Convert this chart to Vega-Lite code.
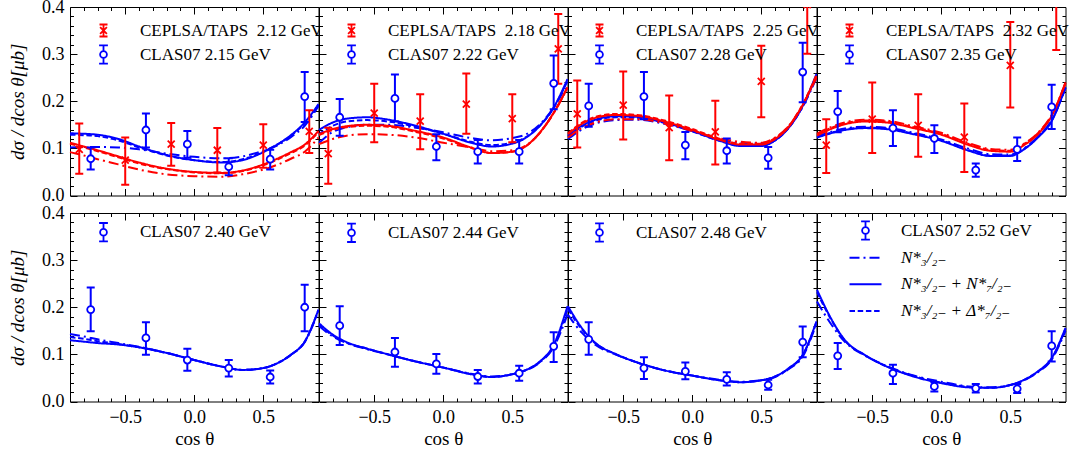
{
"$schema":"https://vega.github.io/schema/vega-lite/v6.json",
"padding":{"left":8,"top":-3,"right":0,"bottom":0},
"background":"white",
"config":{"view":{"stroke":"black","strokeWidth":1,"fill":"white"},
"font":"Liberation Serif, Times New Roman, DejaVu Serif, serif",
"axis":{"labelFont":"Liberation Serif, Times New Roman, DejaVu Serif, serif","labelFontSize":18,"labelColor":"black","titleFont":"Liberation Serif, Times New Roman, DejaVu Serif, serif","titleFontSize":19,"titleFontWeight":"normal","titleColor":"black","tickColor":"black","tickWidth":1,"domain":false,"grid":false,"labelFlush":false,"zindex":1},
"legend":{"labelFont":"Liberation Serif, Times New Roman, DejaVu Serif, serif","labelFontSize":17,"labelColor":"black","labelLimit":400}},
"datasets":{
"pts":[
{"p":1,"c":"r","x":-0.833,"y":0.098,"lo":0.046,"hi":0.153},{"p":1,"c":"r","x":-0.5,"y":0.075,"lo":0.023,"hi":0.123},{"p":1,"c":"r","x":-0.167,"y":0.109,"lo":0.063,"hi":0.154},{"p":1,"c":"r","x":0.167,"y":0.096,"lo":0.049,"hi":0.143},{"p":1,"c":"r","x":0.5,"y":0.107,"lo":0.059,"hi":0.151},{"p":1,"c":"r","x":0.833,"y":0.136,"lo":0.090,"hi":0.181},
{"p":1,"c":"b","x":-0.75,"y":0.078,"lo":0.055,"hi":0.102},{"p":1,"c":"b","x":-0.35,"y":0.139,"lo":0.102,"hi":0.174},{"p":1,"c":"b","x":-0.05,"y":0.109,"lo":0.080,"hi":0.137},{"p":1,"c":"b","x":0.25,"y":0.061,"lo":0.043,"hi":0.079},{"p":1,"c":"b","x":0.55,"y":0.077,"lo":0.055,"hi":0.097},{"p":1,"c":"b","x":0.8,"y":0.210,"lo":0.156,"hi":0.262},
{"p":2,"c":"r","x":-0.833,"y":0.089,"lo":0.025,"hi":0.144},{"p":2,"c":"r","x":-0.5,"y":0.175,"lo":0.113,"hi":0.237},{"p":2,"c":"r","x":-0.167,"y":0.158,"lo":0.098,"hi":0.215},{"p":2,"c":"r","x":0.167,"y":0.194,"lo":0.131,"hi":0.259},{"p":2,"c":"r","x":0.5,"y":0.163,"lo":0.113,"hi":0.215},{"p":2,"c":"r","x":0.833,"y":0.311,"lo":0.237,"hi":0.385},
{"p":2,"c":"b","x":-0.75,"y":0.166,"lo":0.127,"hi":0.205},{"p":2,"c":"b","x":-0.35,"y":0.206,"lo":0.157,"hi":0.257},{"p":2,"c":"b","x":-0.05,"y":0.104,"lo":0.075,"hi":0.130},{"p":2,"c":"b","x":0.25,"y":0.093,"lo":0.068,"hi":0.118},{"p":2,"c":"b","x":0.55,"y":0.093,"lo":0.068,"hi":0.118},{"p":2,"c":"b","x":0.8,"y":0.238,"lo":0.183,"hi":0.297},
{"p":3,"c":"r","x":-0.833,"y":0.173,"lo":0.102,"hi":0.244},{"p":3,"c":"r","x":-0.5,"y":0.192,"lo":0.119,"hi":0.263},{"p":3,"c":"r","x":-0.167,"y":0.144,"lo":0.075,"hi":0.212},{"p":3,"c":"r","x":0.167,"y":0.135,"lo":0.066,"hi":0.201},{"p":3,"c":"r","x":0.5,"y":0.242,"lo":0.166,"hi":0.318},{"p":3,"c":"r","x":0.833,"y":0.405,"lo":0.301,"hi":0.51},
{"p":3,"c":"b","x":-0.75,"y":0.190,"lo":0.146,"hi":0.237},{"p":3,"c":"b","x":-0.35,"y":0.210,"lo":0.162,"hi":0.262},{"p":3,"c":"b","x":-0.05,"y":0.107,"lo":0.077,"hi":0.135},{"p":3,"c":"b","x":0.25,"y":0.095,"lo":0.068,"hi":0.121},{"p":3,"c":"b","x":0.55,"y":0.080,"lo":0.057,"hi":0.103},{"p":3,"c":"b","x":0.8,"y":0.262,"lo":0.198,"hi":0.324},
{"p":4,"c":"r","x":-0.833,"y":0.107,"lo":0.048,"hi":0.162},{"p":4,"c":"r","x":-0.5,"y":0.162,"lo":0.090,"hi":0.240},{"p":4,"c":"r","x":-0.167,"y":0.149,"lo":0.082,"hi":0.215},{"p":4,"c":"r","x":0.167,"y":0.124,"lo":0.050,"hi":0.195},{"p":4,"c":"r","x":0.5,"y":0.276,"lo":0.187,"hi":0.368},{"p":4,"c":"r","x":0.833,"y":0.41,"lo":0.309,"hi":0.52},
{"p":4,"c":"b","x":-0.75,"y":0.178,"lo":0.134,"hi":0.222},{"p":4,"c":"b","x":-0.35,"y":0.143,"lo":0.105,"hi":0.181},{"p":4,"c":"b","x":-0.05,"y":0.121,"lo":0.090,"hi":0.149},{"p":4,"c":"b","x":0.25,"y":0.054,"lo":0.040,"hi":0.068},{"p":4,"c":"b","x":0.55,"y":0.098,"lo":0.073,"hi":0.123},{"p":4,"c":"b","x":0.8,"y":0.188,"lo":0.141,"hi":0.235},
{"p":5,"c":"b","x":-0.75,"y":0.195,"lo":0.149,"hi":0.242},{"p":5,"c":"b","x":-0.35,"y":0.135,"lo":0.099,"hi":0.168},{"p":5,"c":"b","x":-0.05,"y":0.088,"lo":0.065,"hi":0.112},{"p":5,"c":"b","x":0.25,"y":0.071,"lo":0.053,"hi":0.088},{"p":5,"c":"b","x":0.55,"y":0.052,"lo":0.038,"hi":0.066},{"p":5,"c":"b","x":0.8,"y":0.200,"lo":0.149,"hi":0.248},
{"p":6,"c":"b","x":-0.75,"y":0.161,"lo":0.120,"hi":0.202},{"p":6,"c":"b","x":-0.35,"y":0.105,"lo":0.074,"hi":0.135},{"p":6,"c":"b","x":-0.05,"y":0.080,"lo":0.059,"hi":0.101},{"p":6,"c":"b","x":0.25,"y":0.053,"lo":0.038,"hi":0.067},{"p":6,"c":"b","x":0.55,"y":0.060,"lo":0.044,"hi":0.076},{"p":6,"c":"b","x":0.8,"y":0.117,"lo":0.084,"hi":0.147},
{"p":7,"c":"b","x":-0.75,"y":0.132,"lo":0.099,"hi":0.168},{"p":7,"c":"b","x":-0.35,"y":0.071,"lo":0.048,"hi":0.094},{"p":7,"c":"b","x":-0.05,"y":0.064,"lo":0.047,"hi":0.083},{"p":7,"c":"b","x":0.25,"y":0.047,"lo":0.034,"hi":0.062},{"p":7,"c":"b","x":0.55,"y":0.035,"lo":0.025,"hi":0.046},{"p":7,"c":"b","x":0.8,"y":0.126,"lo":0.094,"hi":0.159},
{"p":8,"c":"b","x":-0.75,"y":0.097,"lo":0.069,"hi":0.124},{"p":8,"c":"b","x":-0.35,"y":0.060,"lo":0.037,"hi":0.078},{"p":8,"c":"b","x":-0.05,"y":0.032,"lo":0.021,"hi":0.041},{"p":8,"c":"b","x":0.25,"y":0.028,"lo":0.019,"hi":0.037},{"p":8,"c":"b","x":0.55,"y":0.027,"lo":0.018,"hi":0.037},{"p":8,"c":"b","x":0.8,"y":0.118,"lo":0.085,"hi":0.149}
],
"th":[
{"p":1,"c":"b","x":-0.9,"A":0.102,"B":0.132,"C":0.129},{"p":1,"c":"b","x":-0.8,"A":0.103,"B":0.131,"C":0.128},{"p":1,"c":"b","x":-0.7,"A":0.103,"B":0.129,"C":0.126},{"p":1,"c":"b","x":-0.55,"A":0.102,"B":0.120,"C":0.117},{"p":1,"c":"b","x":-0.4,"A":0.098,"B":0.104,"C":0.102},{"p":1,"c":"b","x":-0.2,"A":0.089,"B":0.086,"C":0.085},{"p":1,"c":"b","x":0,"A":0.082,"B":0.075,"C":0.075},{"p":1,"c":"b","x":0.2,"A":0.079,"B":0.070,"C":0.071},{"p":1,"c":"b","x":0.35,"A":0.083,"B":0.075,"C":0.077},{"p":1,"c":"b","x":0.5,"A":0.095,"B":0.092,"C":0.093},{"p":1,"c":"b","x":0.6,"A":0.106,"B":0.108,"C":0.108},{"p":1,"c":"b","x":0.7,"A":0.124,"B":0.128,"C":0.127},{"p":1,"c":"b","x":0.8,"A":0.148,"B":0.155,"C":0.153},{"p":1,"c":"b","x":0.9,"A":0.190,"B":0.194,"C":0.192},
{"p":1,"c":"r","x":-0.9,"A":0.092,"B":0.112,"C":0.110},{"p":1,"c":"r","x":-0.8,"A":0.085,"B":0.104,"C":0.102},{"p":1,"c":"r","x":-0.7,"A":0.077,"B":0.096,"C":0.094},{"p":1,"c":"r","x":-0.55,"A":0.066,"B":0.083,"C":0.081},{"p":1,"c":"r","x":-0.4,"A":0.055,"B":0.070,"C":0.068},{"p":1,"c":"r","x":-0.2,"A":0.045,"B":0.057,"C":0.056},{"p":1,"c":"r","x":0,"A":0.041,"B":0.050,"C":0.049},{"p":1,"c":"r","x":0.2,"A":0.040,"B":0.048,"C":0.047},{"p":1,"c":"r","x":0.35,"A":0.045,"B":0.053,"C":0.052},{"p":1,"c":"r","x":0.5,"A":0.055,"B":0.066,"C":0.064},{"p":1,"c":"r","x":0.6,"A":0.065,"B":0.078,"C":0.076},{"p":1,"c":"r","x":0.7,"A":0.078,"B":0.092,"C":0.090},{"p":1,"c":"r","x":0.8,"A":0.093,"B":0.108,"C":0.106},{"p":1,"c":"r","x":0.9,"A":0.123,"B":0.137,"C":0.135},
{"p":2,"c":"b","x":-0.9,"A":0.112,"B":0.139,"C":0.130},{"p":2,"c":"b","x":-0.8,"A":0.135,"B":0.155,"C":0.148},{"p":2,"c":"b","x":-0.7,"A":0.145,"B":0.163,"C":0.157},{"p":2,"c":"b","x":-0.55,"A":0.150,"B":0.166,"C":0.160},{"p":2,"c":"b","x":-0.4,"A":0.150,"B":0.161,"C":0.157},{"p":2,"c":"b","x":-0.2,"A":0.144,"B":0.148,"C":0.146},{"p":2,"c":"b","x":0,"A":0.134,"B":0.131,"C":0.131},{"p":2,"c":"b","x":0.2,"A":0.122,"B":0.112,"C":0.114},{"p":2,"c":"b","x":0.35,"A":0.117,"B":0.104,"C":0.107},{"p":2,"c":"b","x":0.5,"A":0.122,"B":0.110,"C":0.112},{"p":2,"c":"b","x":0.6,"A":0.130,"B":0.123,"C":0.124},{"p":2,"c":"b","x":0.7,"A":0.151,"B":0.148,"C":0.148},{"p":2,"c":"b","x":0.8,"A":0.187,"B":0.187,"C":0.186},{"p":2,"c":"b","x":0.9,"A":0.237,"B":0.247,"C":0.243},
{"p":2,"c":"r","x":-0.9,"A":0.109,"B":0.130,"C":0.128},{"p":2,"c":"r","x":-0.8,"A":0.120,"B":0.141,"C":0.139},{"p":2,"c":"r","x":-0.7,"A":0.127,"B":0.147,"C":0.145},{"p":2,"c":"r","x":-0.55,"A":0.130,"B":0.150,"C":0.148},{"p":2,"c":"r","x":-0.4,"A":0.129,"B":0.148,"C":0.146},{"p":2,"c":"r","x":-0.2,"A":0.123,"B":0.137,"C":0.135},{"p":2,"c":"r","x":0,"A":0.112,"B":0.123,"C":0.121},{"p":2,"c":"r","x":0.2,"A":0.102,"B":0.102,"C":0.101},{"p":2,"c":"r","x":0.35,"A":0.094,"B":0.090,"C":0.090},{"p":2,"c":"r","x":0.5,"A":0.096,"B":0.093,"C":0.093},{"p":2,"c":"r","x":0.6,"A":0.106,"B":0.105,"C":0.105},{"p":2,"c":"r","x":0.7,"A":0.133,"B":0.134,"C":0.133},{"p":2,"c":"r","x":0.8,"A":0.175,"B":0.176,"C":0.175},{"p":2,"c":"r","x":0.9,"A":0.228,"B":0.230,"C":0.229},
{"p":3,"c":"b","x":-0.9,"A":0.120,"B":0.127,"C":0.125},{"p":3,"c":"b","x":-0.8,"A":0.140,"B":0.148,"C":0.146},{"p":3,"c":"b","x":-0.7,"A":0.153,"B":0.161,"C":0.159},{"p":3,"c":"b","x":-0.55,"A":0.160,"B":0.168,"C":0.166},{"p":3,"c":"b","x":-0.4,"A":0.161,"B":0.167,"C":0.165},{"p":3,"c":"b","x":-0.2,"A":0.152,"B":0.155,"C":0.154},{"p":3,"c":"b","x":0,"A":0.137,"B":0.137,"C":0.136},{"p":3,"c":"b","x":0.2,"A":0.119,"B":0.116,"C":0.116},{"p":3,"c":"b","x":0.35,"A":0.112,"B":0.105,"C":0.106},{"p":3,"c":"b","x":0.5,"A":0.111,"B":0.105,"C":0.106},{"p":3,"c":"b","x":0.6,"A":0.121,"B":0.117,"C":0.117},{"p":3,"c":"b","x":0.7,"A":0.146,"B":0.144,"C":0.144},{"p":3,"c":"b","x":0.8,"A":0.188,"B":0.190,"C":0.189},{"p":3,"c":"b","x":0.9,"A":0.250,"B":0.258,"C":0.255},
{"p":3,"c":"r","x":-0.9,"A":0.123,"B":0.130,"C":0.132},{"p":3,"c":"r","x":-0.8,"A":0.143,"B":0.152,"C":0.154},{"p":3,"c":"r","x":-0.7,"A":0.155,"B":0.165,"C":0.167},{"p":3,"c":"r","x":-0.55,"A":0.162,"B":0.171,"C":0.173},{"p":3,"c":"r","x":-0.4,"A":0.162,"B":0.169,"C":0.171},{"p":3,"c":"r","x":-0.2,"A":0.153,"B":0.157,"C":0.159},{"p":3,"c":"r","x":0,"A":0.137,"B":0.139,"C":0.141},{"p":3,"c":"r","x":0.2,"A":0.121,"B":0.118,"C":0.120},{"p":3,"c":"r","x":0.35,"A":0.114,"B":0.108,"C":0.110},{"p":3,"c":"r","x":0.5,"A":0.112,"B":0.108,"C":0.110},{"p":3,"c":"r","x":0.6,"A":0.123,"B":0.120,"C":0.122},{"p":3,"c":"r","x":0.7,"A":0.148,"B":0.146,"C":0.148},{"p":3,"c":"r","x":0.8,"A":0.193,"B":0.192,"C":0.193},{"p":3,"c":"r","x":0.9,"A":0.250,"B":0.254,"C":0.256},
{"p":4,"c":"b","x":-0.9,"A":0.126,"B":0.123,"C":0.124},{"p":4,"c":"b","x":-0.8,"A":0.135,"B":0.132,"C":0.133},{"p":4,"c":"b","x":-0.7,"A":0.142,"B":0.139,"C":0.140},{"p":4,"c":"b","x":-0.55,"A":0.146,"B":0.143,"C":0.144},{"p":4,"c":"b","x":-0.4,"A":0.144,"B":0.141,"C":0.142},{"p":4,"c":"b","x":-0.2,"A":0.133,"B":0.130,"C":0.131},{"p":4,"c":"b","x":0,"A":0.119,"B":0.116,"C":0.117},{"p":4,"c":"b","x":0.2,"A":0.099,"B":0.095,"C":0.096},{"p":4,"c":"b","x":0.35,"A":0.088,"B":0.084,"C":0.085},{"p":4,"c":"b","x":0.5,"A":0.087,"B":0.084,"C":0.085},{"p":4,"c":"b","x":0.6,"A":0.100,"B":0.098,"C":0.099},{"p":4,"c":"b","x":0.7,"A":0.125,"B":0.123,"C":0.124},{"p":4,"c":"b","x":0.8,"A":0.160,"B":0.158,"C":0.159},{"p":4,"c":"b","x":0.9,"A":0.228,"B":0.230,"C":0.229},
{"p":4,"c":"r","x":-0.9,"A":0.131,"B":0.127,"C":0.129},{"p":4,"c":"r","x":-0.8,"A":0.145,"B":0.141,"C":0.143},{"p":4,"c":"r","x":-0.7,"A":0.155,"B":0.151,"C":0.153},{"p":4,"c":"r","x":-0.55,"A":0.161,"B":0.157,"C":0.159},{"p":4,"c":"r","x":-0.4,"A":0.159,"B":0.155,"C":0.157},{"p":4,"c":"r","x":-0.2,"A":0.147,"B":0.143,"C":0.145},{"p":4,"c":"r","x":0,"A":0.133,"B":0.129,"C":0.131},{"p":4,"c":"r","x":0.2,"A":0.111,"B":0.107,"C":0.109},{"p":4,"c":"r","x":0.35,"A":0.099,"B":0.095,"C":0.097},{"p":4,"c":"r","x":0.5,"A":0.097,"B":0.093,"C":0.095},{"p":4,"c":"r","x":0.6,"A":0.110,"B":0.107,"C":0.109},{"p":4,"c":"r","x":0.7,"A":0.133,"B":0.130,"C":0.132},{"p":4,"c":"r","x":0.8,"A":0.171,"B":0.169,"C":0.170},{"p":4,"c":"r","x":0.9,"A":0.238,"B":0.240,"C":0.239},
{"p":5,"c":"b","x":-0.9,"A":0.143,"B":0.130,"C":0.137},{"p":5,"c":"b","x":-0.8,"A":0.138,"B":0.127,"C":0.133},{"p":5,"c":"b","x":-0.7,"A":0.132,"B":0.124,"C":0.128},{"p":5,"c":"b","x":-0.55,"A":0.124,"B":0.121,"C":0.122},{"p":5,"c":"b","x":-0.4,"A":0.116,"B":0.115,"C":0.115},{"p":5,"c":"b","x":-0.2,"A":0.103,"B":0.103,"C":0.103},{"p":5,"c":"b","x":0,"A":0.088,"B":0.088,"C":0.088},{"p":5,"c":"b","x":0.2,"A":0.074,"B":0.074,"C":0.074},{"p":5,"c":"b","x":0.35,"A":0.067,"B":0.067,"C":0.067},{"p":5,"c":"b","x":0.5,"A":0.071,"B":0.071,"C":0.071},{"p":5,"c":"b","x":0.6,"A":0.081,"B":0.081,"C":0.081},{"p":5,"c":"b","x":0.7,"A":0.099,"B":0.099,"C":0.099},{"p":5,"c":"b","x":0.8,"A":0.126,"B":0.127,"C":0.127},{"p":5,"c":"b","x":0.9,"A":0.192,"B":0.195,"C":0.194},
{"p":6,"c":"b","x":-0.9,"A":0.160,"B":0.166,"C":0.163},{"p":6,"c":"b","x":-0.8,"A":0.138,"B":0.142,"C":0.140},{"p":6,"c":"b","x":-0.7,"A":0.124,"B":0.126,"C":0.125},{"p":6,"c":"b","x":-0.55,"A":0.111,"B":0.112,"C":0.112},{"p":6,"c":"b","x":-0.4,"A":0.100,"B":0.100,"C":0.100},{"p":6,"c":"b","x":-0.2,"A":0.085,"B":0.085,"C":0.085},{"p":6,"c":"b","x":0,"A":0.072,"B":0.072,"C":0.072},{"p":6,"c":"b","x":0.2,"A":0.059,"B":0.058,"C":0.058},{"p":6,"c":"b","x":0.35,"A":0.053,"B":0.052,"C":0.052},{"p":6,"c":"b","x":0.5,"A":0.058,"B":0.058,"C":0.058},{"p":6,"c":"b","x":0.6,"A":0.066,"B":0.067,"C":0.067},{"p":6,"c":"b","x":0.7,"A":0.083,"B":0.085,"C":0.084},{"p":6,"c":"b","x":0.8,"A":0.115,"B":0.120,"C":0.118},{"p":6,"c":"b","x":0.9,"A":0.185,"B":0.202,"C":0.196},
{"p":7,"c":"b","x":-0.9,"A":0.184,"B":0.202,"C":0.196},{"p":7,"c":"b","x":-0.8,"A":0.146,"B":0.156,"C":0.153},{"p":7,"c":"b","x":-0.7,"A":0.120,"B":0.124,"C":0.123},{"p":7,"c":"b","x":-0.55,"A":0.099,"B":0.100,"C":0.100},{"p":7,"c":"b","x":-0.4,"A":0.083,"B":0.083,"C":0.083},{"p":7,"c":"b","x":-0.2,"A":0.066,"B":0.066,"C":0.066},{"p":7,"c":"b","x":0,"A":0.055,"B":0.055,"C":0.055},{"p":7,"c":"b","x":0.2,"A":0.046,"B":0.045,"C":0.045},{"p":7,"c":"b","x":0.35,"A":0.042,"B":0.041,"C":0.041},{"p":7,"c":"b","x":0.5,"A":0.045,"B":0.045,"C":0.045},{"p":7,"c":"b","x":0.6,"A":0.052,"B":0.053,"C":0.053},{"p":7,"c":"b","x":0.7,"A":0.069,"B":0.071,"C":0.070},{"p":7,"c":"b","x":0.8,"A":0.095,"B":0.099,"C":0.098},{"p":7,"c":"b","x":0.9,"A":0.166,"B":0.170,"C":0.168},
{"p":8,"c":"b","x":-0.9,"A":0.212,"B":0.237,"C":0.232},{"p":8,"c":"b","x":-0.8,"A":0.165,"B":0.177,"C":0.175},{"p":8,"c":"b","x":-0.7,"A":0.127,"B":0.131,"C":0.130},{"p":8,"c":"b","x":-0.55,"A":0.097,"B":0.098,"C":0.098},{"p":8,"c":"b","x":-0.4,"A":0.076,"B":0.075,"C":0.075},{"p":8,"c":"b","x":-0.2,"A":0.055,"B":0.053,"C":0.054},{"p":8,"c":"b","x":0,"A":0.042,"B":0.039,"C":0.040},{"p":8,"c":"b","x":0.2,"A":0.032,"B":0.030,"C":0.031},{"p":8,"c":"b","x":0.35,"A":0.030,"B":0.029,"C":0.029},{"p":8,"c":"b","x":0.5,"A":0.035,"B":0.035,"C":0.035},{"p":8,"c":"b","x":0.6,"A":0.045,"B":0.046,"C":0.046},{"p":8,"c":"b","x":0.7,"A":0.062,"B":0.064,"C":0.063},{"p":8,"c":"b","x":0.8,"A":0.089,"B":0.092,"C":0.091},{"p":8,"c":"b","x":0.9,"A":0.150,"B":0.156,"C":0.154}
]},
"columns":4,
"spacing":{"row":17,"column":0},
"bounds":"flush",
"resolve":{"scale":{"x":"independent","y":"independent","color":"independent","shape":"independent","strokeDash":"independent"},"legend":{"color":"independent","shape":"independent","strokeDash":"independent"},"axis":{"x":"independent","y":"independent"}},
"concat":[
{"width":248.5,"height":188.5,"resolve":{"axis":{"x":"independent","y":"independent"}},"layer":[
{"data":{"name":"th"},"transform":[{"filter":"datum.p==1"},{"fold":["A","B","C"],"as":["m","v"]}],"mark":{"type":"line","strokeWidth":2,"interpolate":"monotone"},"encoding":{"x":{"field":"x","type":"quantitative","scale":{"domain":[-0.9,0.9],"nice":false,"zero":false},"axis":{"orient":"bottom","values":[-0.5,0,0.5],"tickSize":-7,"labels":false,"title":null}},"y":{"field":"v","type":"quantitative","scale":{"domain":[0,0.4],"nice":false},"axis":{"orient":"left","values":[0,0.1,0.2,0.3,0.4],"format":".1f","tickSize":-7,"labelPadding":13,"title":"dσ / dcos θ[μb]","titleFontStyle":"italic","titlePadding":14}},"color":{"condition":{"test":"datum.c=='r'","value":"#ff0000"},"value":"#0000ff"},"strokeDash":{"field":"m","type":"nominal","scale":{"domain":["A","B","C"],"range":[[10,4,2,4],[1,0],[5.5,2.7]]},"legend":null},"detail":{"field":"c"}}},
{"data":{"name":"pts"},"transform":[{"filter":"datum.p==1"}],"mark":{"type":"rule","strokeWidth":2,"clip":true},"encoding":{"x":{"field":"x","type":"quantitative","scale":{"domain":[-0.9,0.9],"nice":false,"zero":false},"axis":{"orient":"bottom","values":[-0.8,-0.7,-0.6,-0.4,-0.3,-0.2,-0.1,0.1,0.2,0.3,0.4,0.6,0.7,0.8],"tickSize":-3.5,"labels":false,"title":null}},"y":{"field":"lo","type":"quantitative","scale":{"domain":[0,0.4],"nice":false},"axis":{"orient":"left","values":[0.02,0.04,0.06,0.08,0.12,0.14,0.16,0.18,0.22,0.24,0.26,0.28,0.32,0.34,0.36,0.38],"tickSize":-3.5,"labels":false,"title":null}},"y2":{"field":"hi"},"color":{"condition":{"test":"datum.c=='r'","value":"#ff0000"},"value":"#0000ff"}}},
{"data":{"name":"pts"},"transform":[{"filter":"datum.p==1"}],"mark":{"type":"tick","orient":"horizontal","size":8,"thickness":2,"clip":true,"opacity":1},"encoding":{"x":{"field":"x","type":"quantitative","scale":{"domain":[-0.9,0.9],"nice":false,"zero":false},"axis":{"orient":"top","values":[-0.5,0,0.5],"tickSize":-7,"labels":false,"title":null}},"y":{"field":"hi","type":"quantitative","scale":{"domain":[0,0.4],"nice":false},"axis":{"orient":"right","values":[0,0.1,0.2,0.3,0.4],"tickSize":-7,"labels":false,"title":null}},"color":{"condition":{"test":"datum.c=='r'","value":"#ff0000"},"value":"#0000ff"}}},
{"data":{"name":"pts"},"transform":[{"filter":"datum.p==1"}],"mark":{"type":"tick","orient":"horizontal","size":8,"thickness":2,"clip":true,"opacity":1},"encoding":{"x":{"field":"x","type":"quantitative","scale":{"domain":[-0.9,0.9],"nice":false,"zero":false},"axis":{"orient":"top","values":[-0.8,-0.7,-0.6,-0.4,-0.3,-0.2,-0.1,0.1,0.2,0.3,0.4,0.6,0.7,0.8],"tickSize":-3.5,"labels":false,"title":null}},"y":{"field":"lo","type":"quantitative","scale":{"domain":[0,0.4],"nice":false},"axis":{"orient":"right","values":[0.02,0.04,0.06,0.08,0.12,0.14,0.16,0.18,0.22,0.24,0.26,0.28,0.32,0.34,0.36,0.38],"tickSize":-3.5,"labels":false,"title":null}},"color":{"condition":{"test":"datum.c=='r'","value":"#ff0000"},"value":"#0000ff"}}},
{"data":{"name":"pts"},"transform":[{"filter":"datum.p==1"}],"mark":{"type":"point","size":49,"strokeWidth":1.8,"fill":"white","opacity":1,"clip":true},"encoding":{"x":{"field":"x","type":"quantitative","scale":{"domain":[-0.9,0.9],"nice":false,"zero":false},"axis":null},"y":{"field":"y","type":"quantitative","scale":{"domain":[0,0.4],"nice":false},"axis":null},"stroke":{"condition":{"test":"datum.c=='r'","value":"#ff0000"},"value":"#0000ff"},"shape":{"condition":{"test":"datum.c=='r'","value":"M-1,-1L1,1M1,-1L-1,1"},"value":"circle"}}},
{"data":{"name":"pts"},"transform":[{"filter":"false"}],"mark":{"type":"point","filled":false,"opacity":1,"strokeWidth":1.8},"encoding":{"x":{"field":"x","type":"quantitative","axis":null},"y":{"field":"y","type":"quantitative","axis":null},"color":{"field":"lab","type":"nominal","scale":{"domain":["CEPLSA/TAPS\u00a0 2.12 GeV","CLAS07 2.15 GeV"],"range":["#ff0000","#0000ff"]},"legend":{"title":null,"orient":"none","legendX":25,"legendY":15,"padding":0,"symbolSize":64,"symbolStrokeWidth":1.8,"labelOffset":28,"rowPadding":0}},"shape":{"field":"lab","type":"nominal","scale":{"domain":["CEPLSA/TAPS\u00a0 2.12 GeV","CLAS07 2.15 GeV"],"range":["M0,-1.5L0,1.5M-1,-1.5L1,-1.5M-1,1.5L1,1.5M-0.85,-0.85L0.85,0.85M0.85,-0.85L-0.85,0.85","M0,-2.3L0,-0.85M0,0.85L0,2.3M-1.1,-2.3L1.1,-2.3M-1.1,2.3L1.1,2.3M0.85,0A0.85,0.85,0,1,1,-0.85,0A0.85,0.85,0,1,1,0.85,0"]},"legend":{"title":null,"orient":"none","legendX":25,"legendY":15,"padding":0,"symbolSize":64,"symbolStrokeWidth":1.8,"labelOffset":28,"rowPadding":0}}}}
]},
{"width":248.5,"height":188.5,"resolve":{"axis":{"x":"independent","y":"independent"}},"layer":[
{"data":{"name":"th"},"transform":[{"filter":"datum.p==2"},{"fold":["A","B","C"],"as":["m","v"]}],"mark":{"type":"line","strokeWidth":2,"interpolate":"monotone"},"encoding":{"x":{"field":"x","type":"quantitative","scale":{"domain":[-0.9,0.9],"nice":false,"zero":false},"axis":{"orient":"bottom","values":[-0.5,0,0.5],"tickSize":-7,"labels":false,"title":null}},"y":{"field":"v","type":"quantitative","scale":{"domain":[0,0.4],"nice":false},"axis":{"orient":"left","values":[0,0.1,0.2,0.3,0.4],"tickSize":-7,"labels":false,"title":null}},"color":{"condition":{"test":"datum.c=='r'","value":"#ff0000"},"value":"#0000ff"},"strokeDash":{"field":"m","type":"nominal","scale":{"domain":["A","B","C"],"range":[[10,4,2,4],[1,0],[5.5,2.7]]},"legend":null},"detail":{"field":"c"}}},
{"data":{"name":"pts"},"transform":[{"filter":"datum.p==2"}],"mark":{"type":"rule","strokeWidth":2,"clip":true},"encoding":{"x":{"field":"x","type":"quantitative","scale":{"domain":[-0.9,0.9],"nice":false,"zero":false},"axis":{"orient":"bottom","values":[-0.8,-0.7,-0.6,-0.4,-0.3,-0.2,-0.1,0.1,0.2,0.3,0.4,0.6,0.7,0.8],"tickSize":-3.5,"labels":false,"title":null}},"y":{"field":"lo","type":"quantitative","scale":{"domain":[0,0.4],"nice":false},"axis":{"orient":"left","values":[0.02,0.04,0.06,0.08,0.12,0.14,0.16,0.18,0.22,0.24,0.26,0.28,0.32,0.34,0.36,0.38],"tickSize":-3.5,"labels":false,"title":null}},"y2":{"field":"hi"},"color":{"condition":{"test":"datum.c=='r'","value":"#ff0000"},"value":"#0000ff"}}},
{"data":{"name":"pts"},"transform":[{"filter":"datum.p==2"}],"mark":{"type":"tick","orient":"horizontal","size":8,"thickness":2,"clip":true,"opacity":1},"encoding":{"x":{"field":"x","type":"quantitative","scale":{"domain":[-0.9,0.9],"nice":false,"zero":false},"axis":{"orient":"top","values":[-0.5,0,0.5],"tickSize":-7,"labels":false,"title":null}},"y":{"field":"hi","type":"quantitative","scale":{"domain":[0,0.4],"nice":false},"axis":{"orient":"right","values":[0,0.1,0.2,0.3,0.4],"tickSize":-7,"labels":false,"title":null}},"color":{"condition":{"test":"datum.c=='r'","value":"#ff0000"},"value":"#0000ff"}}},
{"data":{"name":"pts"},"transform":[{"filter":"datum.p==2"}],"mark":{"type":"tick","orient":"horizontal","size":8,"thickness":2,"clip":true,"opacity":1},"encoding":{"x":{"field":"x","type":"quantitative","scale":{"domain":[-0.9,0.9],"nice":false,"zero":false},"axis":{"orient":"top","values":[-0.8,-0.7,-0.6,-0.4,-0.3,-0.2,-0.1,0.1,0.2,0.3,0.4,0.6,0.7,0.8],"tickSize":-3.5,"labels":false,"title":null}},"y":{"field":"lo","type":"quantitative","scale":{"domain":[0,0.4],"nice":false},"axis":{"orient":"right","values":[0.02,0.04,0.06,0.08,0.12,0.14,0.16,0.18,0.22,0.24,0.26,0.28,0.32,0.34,0.36,0.38],"tickSize":-3.5,"labels":false,"title":null}},"color":{"condition":{"test":"datum.c=='r'","value":"#ff0000"},"value":"#0000ff"}}},
{"data":{"name":"pts"},"transform":[{"filter":"datum.p==2"}],"mark":{"type":"point","size":49,"strokeWidth":1.8,"fill":"white","opacity":1,"clip":true},"encoding":{"x":{"field":"x","type":"quantitative","scale":{"domain":[-0.9,0.9],"nice":false,"zero":false},"axis":null},"y":{"field":"y","type":"quantitative","scale":{"domain":[0,0.4],"nice":false},"axis":null},"stroke":{"condition":{"test":"datum.c=='r'","value":"#ff0000"},"value":"#0000ff"},"shape":{"condition":{"test":"datum.c=='r'","value":"M-1,-1L1,1M1,-1L-1,1"},"value":"circle"}}},
{"data":{"name":"pts"},"transform":[{"filter":"false"}],"mark":{"type":"point","filled":false,"opacity":1,"strokeWidth":1.8},"encoding":{"x":{"field":"x","type":"quantitative","axis":null},"y":{"field":"y","type":"quantitative","axis":null},"color":{"field":"lab","type":"nominal","scale":{"domain":["CEPLSA/TAPS\u00a0 2.18 GeV","CLAS07 2.22 GeV"],"range":["#ff0000","#0000ff"]},"legend":{"title":null,"orient":"none","legendX":24,"legendY":15,"padding":0,"symbolSize":64,"symbolStrokeWidth":1.8,"labelOffset":28,"rowPadding":0}},"shape":{"field":"lab","type":"nominal","scale":{"domain":["CEPLSA/TAPS\u00a0 2.18 GeV","CLAS07 2.22 GeV"],"range":["M0,-1.5L0,1.5M-1,-1.5L1,-1.5M-1,1.5L1,1.5M-0.85,-0.85L0.85,0.85M0.85,-0.85L-0.85,0.85","M0,-2.3L0,-0.85M0,0.85L0,2.3M-1.1,-2.3L1.1,-2.3M-1.1,2.3L1.1,2.3M0.85,0A0.85,0.85,0,1,1,-0.85,0A0.85,0.85,0,1,1,0.85,0"]},"legend":{"title":null,"orient":"none","legendX":24,"legendY":15,"padding":0,"symbolSize":64,"symbolStrokeWidth":1.8,"labelOffset":28,"rowPadding":0}}}}
]},
{"width":248.5,"height":188.5,"resolve":{"axis":{"x":"independent","y":"independent"}},"layer":[
{"data":{"name":"th"},"transform":[{"filter":"datum.p==3"},{"fold":["A","B","C"],"as":["m","v"]}],"mark":{"type":"line","strokeWidth":2,"interpolate":"monotone"},"encoding":{"x":{"field":"x","type":"quantitative","scale":{"domain":[-0.9,0.9],"nice":false,"zero":false},"axis":{"orient":"bottom","values":[-0.5,0,0.5],"tickSize":-7,"labels":false,"title":null}},"y":{"field":"v","type":"quantitative","scale":{"domain":[0,0.4],"nice":false},"axis":{"orient":"left","values":[0,0.1,0.2,0.3,0.4],"tickSize":-7,"labels":false,"title":null}},"color":{"condition":{"test":"datum.c=='r'","value":"#ff0000"},"value":"#0000ff"},"strokeDash":{"field":"m","type":"nominal","scale":{"domain":["A","B","C"],"range":[[10,4,2,4],[1,0],[5.5,2.7]]},"legend":null},"detail":{"field":"c"}}},
{"data":{"name":"pts"},"transform":[{"filter":"datum.p==3"}],"mark":{"type":"rule","strokeWidth":2,"clip":true},"encoding":{"x":{"field":"x","type":"quantitative","scale":{"domain":[-0.9,0.9],"nice":false,"zero":false},"axis":{"orient":"bottom","values":[-0.8,-0.7,-0.6,-0.4,-0.3,-0.2,-0.1,0.1,0.2,0.3,0.4,0.6,0.7,0.8],"tickSize":-3.5,"labels":false,"title":null}},"y":{"field":"lo","type":"quantitative","scale":{"domain":[0,0.4],"nice":false},"axis":{"orient":"left","values":[0.02,0.04,0.06,0.08,0.12,0.14,0.16,0.18,0.22,0.24,0.26,0.28,0.32,0.34,0.36,0.38],"tickSize":-3.5,"labels":false,"title":null}},"y2":{"field":"hi"},"color":{"condition":{"test":"datum.c=='r'","value":"#ff0000"},"value":"#0000ff"}}},
{"data":{"name":"pts"},"transform":[{"filter":"datum.p==3"}],"mark":{"type":"tick","orient":"horizontal","size":8,"thickness":2,"clip":true,"opacity":1},"encoding":{"x":{"field":"x","type":"quantitative","scale":{"domain":[-0.9,0.9],"nice":false,"zero":false},"axis":{"orient":"top","values":[-0.5,0,0.5],"tickSize":-7,"labels":false,"title":null}},"y":{"field":"hi","type":"quantitative","scale":{"domain":[0,0.4],"nice":false},"axis":{"orient":"right","values":[0,0.1,0.2,0.3,0.4],"tickSize":-7,"labels":false,"title":null}},"color":{"condition":{"test":"datum.c=='r'","value":"#ff0000"},"value":"#0000ff"}}},
{"data":{"name":"pts"},"transform":[{"filter":"datum.p==3"}],"mark":{"type":"tick","orient":"horizontal","size":8,"thickness":2,"clip":true,"opacity":1},"encoding":{"x":{"field":"x","type":"quantitative","scale":{"domain":[-0.9,0.9],"nice":false,"zero":false},"axis":{"orient":"top","values":[-0.8,-0.7,-0.6,-0.4,-0.3,-0.2,-0.1,0.1,0.2,0.3,0.4,0.6,0.7,0.8],"tickSize":-3.5,"labels":false,"title":null}},"y":{"field":"lo","type":"quantitative","scale":{"domain":[0,0.4],"nice":false},"axis":{"orient":"right","values":[0.02,0.04,0.06,0.08,0.12,0.14,0.16,0.18,0.22,0.24,0.26,0.28,0.32,0.34,0.36,0.38],"tickSize":-3.5,"labels":false,"title":null}},"color":{"condition":{"test":"datum.c=='r'","value":"#ff0000"},"value":"#0000ff"}}},
{"data":{"name":"pts"},"transform":[{"filter":"datum.p==3"}],"mark":{"type":"point","size":49,"strokeWidth":1.8,"fill":"white","opacity":1,"clip":true},"encoding":{"x":{"field":"x","type":"quantitative","scale":{"domain":[-0.9,0.9],"nice":false,"zero":false},"axis":null},"y":{"field":"y","type":"quantitative","scale":{"domain":[0,0.4],"nice":false},"axis":null},"stroke":{"condition":{"test":"datum.c=='r'","value":"#ff0000"},"value":"#0000ff"},"shape":{"condition":{"test":"datum.c=='r'","value":"M-1,-1L1,1M1,-1L-1,1"},"value":"circle"}}},
{"data":{"name":"pts"},"transform":[{"filter":"false"}],"mark":{"type":"point","filled":false,"opacity":1,"strokeWidth":1.8},"encoding":{"x":{"field":"x","type":"quantitative","axis":null},"y":{"field":"y","type":"quantitative","axis":null},"color":{"field":"lab","type":"nominal","scale":{"domain":["CEPLSA/TAPS\u00a0 2.25 GeV","CLAS07 2.28 GeV"],"range":["#ff0000","#0000ff"]},"legend":{"title":null,"orient":"none","legendX":23,"legendY":15,"padding":0,"symbolSize":64,"symbolStrokeWidth":1.8,"labelOffset":28,"rowPadding":0}},"shape":{"field":"lab","type":"nominal","scale":{"domain":["CEPLSA/TAPS\u00a0 2.25 GeV","CLAS07 2.28 GeV"],"range":["M0,-1.5L0,1.5M-1,-1.5L1,-1.5M-1,1.5L1,1.5M-0.85,-0.85L0.85,0.85M0.85,-0.85L-0.85,0.85","M0,-2.3L0,-0.85M0,0.85L0,2.3M-1.1,-2.3L1.1,-2.3M-1.1,2.3L1.1,2.3M0.85,0A0.85,0.85,0,1,1,-0.85,0A0.85,0.85,0,1,1,0.85,0"]},"legend":{"title":null,"orient":"none","legendX":23,"legendY":15,"padding":0,"symbolSize":64,"symbolStrokeWidth":1.8,"labelOffset":28,"rowPadding":0}}}}
]},
{"width":248.5,"height":188.5,"resolve":{"axis":{"x":"independent","y":"independent"}},"layer":[
{"data":{"name":"th"},"transform":[{"filter":"datum.p==4"},{"fold":["A","B","C"],"as":["m","v"]}],"mark":{"type":"line","strokeWidth":2,"interpolate":"monotone"},"encoding":{"x":{"field":"x","type":"quantitative","scale":{"domain":[-0.9,0.9],"nice":false,"zero":false},"axis":{"orient":"bottom","values":[-0.5,0,0.5],"tickSize":-7,"labels":false,"title":null}},"y":{"field":"v","type":"quantitative","scale":{"domain":[0,0.4],"nice":false},"axis":{"orient":"left","values":[0,0.1,0.2,0.3,0.4],"tickSize":-7,"labels":false,"title":null}},"color":{"condition":{"test":"datum.c=='r'","value":"#ff0000"},"value":"#0000ff"},"strokeDash":{"field":"m","type":"nominal","scale":{"domain":["A","B","C"],"range":[[10,4,2,4],[1,0],[5.5,2.7]]},"legend":null},"detail":{"field":"c"}}},
{"data":{"name":"pts"},"transform":[{"filter":"datum.p==4"}],"mark":{"type":"rule","strokeWidth":2,"clip":true},"encoding":{"x":{"field":"x","type":"quantitative","scale":{"domain":[-0.9,0.9],"nice":false,"zero":false},"axis":{"orient":"bottom","values":[-0.8,-0.7,-0.6,-0.4,-0.3,-0.2,-0.1,0.1,0.2,0.3,0.4,0.6,0.7,0.8],"tickSize":-3.5,"labels":false,"title":null}},"y":{"field":"lo","type":"quantitative","scale":{"domain":[0,0.4],"nice":false},"axis":{"orient":"left","values":[0.02,0.04,0.06,0.08,0.12,0.14,0.16,0.18,0.22,0.24,0.26,0.28,0.32,0.34,0.36,0.38],"tickSize":-3.5,"labels":false,"title":null}},"y2":{"field":"hi"},"color":{"condition":{"test":"datum.c=='r'","value":"#ff0000"},"value":"#0000ff"}}},
{"data":{"name":"pts"},"transform":[{"filter":"datum.p==4"}],"mark":{"type":"tick","orient":"horizontal","size":8,"thickness":2,"clip":true,"opacity":1},"encoding":{"x":{"field":"x","type":"quantitative","scale":{"domain":[-0.9,0.9],"nice":false,"zero":false},"axis":{"orient":"top","values":[-0.5,0,0.5],"tickSize":-7,"labels":false,"title":null}},"y":{"field":"hi","type":"quantitative","scale":{"domain":[0,0.4],"nice":false},"axis":{"orient":"right","values":[0,0.1,0.2,0.3,0.4],"tickSize":-7,"labels":false,"title":null}},"color":{"condition":{"test":"datum.c=='r'","value":"#ff0000"},"value":"#0000ff"}}},
{"data":{"name":"pts"},"transform":[{"filter":"datum.p==4"}],"mark":{"type":"tick","orient":"horizontal","size":8,"thickness":2,"clip":true,"opacity":1},"encoding":{"x":{"field":"x","type":"quantitative","scale":{"domain":[-0.9,0.9],"nice":false,"zero":false},"axis":{"orient":"top","values":[-0.8,-0.7,-0.6,-0.4,-0.3,-0.2,-0.1,0.1,0.2,0.3,0.4,0.6,0.7,0.8],"tickSize":-3.5,"labels":false,"title":null}},"y":{"field":"lo","type":"quantitative","scale":{"domain":[0,0.4],"nice":false},"axis":{"orient":"right","values":[0.02,0.04,0.06,0.08,0.12,0.14,0.16,0.18,0.22,0.24,0.26,0.28,0.32,0.34,0.36,0.38],"tickSize":-3.5,"labels":false,"title":null}},"color":{"condition":{"test":"datum.c=='r'","value":"#ff0000"},"value":"#0000ff"}}},
{"data":{"name":"pts"},"transform":[{"filter":"datum.p==4"}],"mark":{"type":"point","size":49,"strokeWidth":1.8,"fill":"white","opacity":1,"clip":true},"encoding":{"x":{"field":"x","type":"quantitative","scale":{"domain":[-0.9,0.9],"nice":false,"zero":false},"axis":null},"y":{"field":"y","type":"quantitative","scale":{"domain":[0,0.4],"nice":false},"axis":null},"stroke":{"condition":{"test":"datum.c=='r'","value":"#ff0000"},"value":"#0000ff"},"shape":{"condition":{"test":"datum.c=='r'","value":"M-1,-1L1,1M1,-1L-1,1"},"value":"circle"}}},
{"data":{"name":"pts"},"transform":[{"filter":"false"}],"mark":{"type":"point","filled":false,"opacity":1,"strokeWidth":1.8},"encoding":{"x":{"field":"x","type":"quantitative","axis":null},"y":{"field":"y","type":"quantitative","axis":null},"color":{"field":"lab","type":"nominal","scale":{"domain":["CEPLSA/TAPS\u00a0 2.32 GeV","CLAS07 2.35 GeV"],"range":["#ff0000","#0000ff"]},"legend":{"title":null,"orient":"none","legendX":24,"legendY":15,"padding":0,"symbolSize":64,"symbolStrokeWidth":1.8,"labelOffset":28,"rowPadding":0}},"shape":{"field":"lab","type":"nominal","scale":{"domain":["CEPLSA/TAPS\u00a0 2.32 GeV","CLAS07 2.35 GeV"],"range":["M0,-1.5L0,1.5M-1,-1.5L1,-1.5M-1,1.5L1,1.5M-0.85,-0.85L0.85,0.85M0.85,-0.85L-0.85,0.85","M0,-2.3L0,-0.85M0,0.85L0,2.3M-1.1,-2.3L1.1,-2.3M-1.1,2.3L1.1,2.3M0.85,0A0.85,0.85,0,1,1,-0.85,0A0.85,0.85,0,1,1,0.85,0"]},"legend":{"title":null,"orient":"none","legendX":24,"legendY":15,"padding":0,"symbolSize":64,"symbolStrokeWidth":1.8,"labelOffset":28,"rowPadding":0}}}}
]},
{"width":248.5,"height":188.5,"resolve":{"axis":{"x":"independent","y":"independent"}},"layer":[
{"data":{"name":"th"},"transform":[{"filter":"datum.p==5"},{"fold":["A","B","C"],"as":["m","v"]}],"mark":{"type":"line","strokeWidth":2,"interpolate":"monotone"},"encoding":{"x":{"field":"x","type":"quantitative","scale":{"domain":[-0.9,0.9],"nice":false,"zero":false},"axis":{"orient":"bottom","values":[-0.5,0,0.5],"format":".1f","tickSize":-7,"labelPadding":14,"title":"cos θ","titlePadding":3}},"y":{"field":"v","type":"quantitative","scale":{"domain":[0,0.4],"nice":false},"axis":{"orient":"left","values":[0,0.1,0.2,0.3,0.4],"format":".1f","tickSize":-7,"labelPadding":13,"title":"dσ / dcos θ[μb]","titleFontStyle":"italic","titlePadding":14}},"color":{"condition":{"test":"datum.c=='r'","value":"#ff0000"},"value":"#0000ff"},"strokeDash":{"field":"m","type":"nominal","scale":{"domain":["A","B","C"],"range":[[10,4,2,4],[1,0],[5.5,2.7]]},"legend":null},"detail":{"field":"c"}}},
{"data":{"name":"pts"},"transform":[{"filter":"datum.p==5"}],"mark":{"type":"rule","strokeWidth":2,"clip":true},"encoding":{"x":{"field":"x","type":"quantitative","scale":{"domain":[-0.9,0.9],"nice":false,"zero":false},"axis":{"orient":"bottom","values":[-0.8,-0.7,-0.6,-0.4,-0.3,-0.2,-0.1,0.1,0.2,0.3,0.4,0.6,0.7,0.8],"tickSize":-3.5,"labels":false,"title":null}},"y":{"field":"lo","type":"quantitative","scale":{"domain":[0,0.4],"nice":false},"axis":{"orient":"left","values":[0.02,0.04,0.06,0.08,0.12,0.14,0.16,0.18,0.22,0.24,0.26,0.28,0.32,0.34,0.36,0.38],"tickSize":-3.5,"labels":false,"title":null}},"y2":{"field":"hi"},"color":{"condition":{"test":"datum.c=='r'","value":"#ff0000"},"value":"#0000ff"}}},
{"data":{"name":"pts"},"transform":[{"filter":"datum.p==5"}],"mark":{"type":"tick","orient":"horizontal","size":8,"thickness":2,"clip":true,"opacity":1},"encoding":{"x":{"field":"x","type":"quantitative","scale":{"domain":[-0.9,0.9],"nice":false,"zero":false},"axis":{"orient":"top","values":[-0.5,0,0.5],"tickSize":-7,"labels":false,"title":null}},"y":{"field":"hi","type":"quantitative","scale":{"domain":[0,0.4],"nice":false},"axis":{"orient":"right","values":[0,0.1,0.2,0.3,0.4],"tickSize":-7,"labels":false,"title":null}},"color":{"condition":{"test":"datum.c=='r'","value":"#ff0000"},"value":"#0000ff"}}},
{"data":{"name":"pts"},"transform":[{"filter":"datum.p==5"}],"mark":{"type":"tick","orient":"horizontal","size":8,"thickness":2,"clip":true,"opacity":1},"encoding":{"x":{"field":"x","type":"quantitative","scale":{"domain":[-0.9,0.9],"nice":false,"zero":false},"axis":{"orient":"top","values":[-0.8,-0.7,-0.6,-0.4,-0.3,-0.2,-0.1,0.1,0.2,0.3,0.4,0.6,0.7,0.8],"tickSize":-3.5,"labels":false,"title":null}},"y":{"field":"lo","type":"quantitative","scale":{"domain":[0,0.4],"nice":false},"axis":{"orient":"right","values":[0.02,0.04,0.06,0.08,0.12,0.14,0.16,0.18,0.22,0.24,0.26,0.28,0.32,0.34,0.36,0.38],"tickSize":-3.5,"labels":false,"title":null}},"color":{"condition":{"test":"datum.c=='r'","value":"#ff0000"},"value":"#0000ff"}}},
{"data":{"name":"pts"},"transform":[{"filter":"datum.p==5"}],"mark":{"type":"point","size":49,"strokeWidth":1.8,"fill":"white","opacity":1,"clip":true},"encoding":{"x":{"field":"x","type":"quantitative","scale":{"domain":[-0.9,0.9],"nice":false,"zero":false},"axis":null},"y":{"field":"y","type":"quantitative","scale":{"domain":[0,0.4],"nice":false},"axis":null},"stroke":{"condition":{"test":"datum.c=='r'","value":"#ff0000"},"value":"#0000ff"},"shape":{"condition":{"test":"datum.c=='r'","value":"M-1,-1L1,1M1,-1L-1,1"},"value":"circle"}}},
{"data":{"name":"pts"},"transform":[{"filter":"false"}],"mark":{"type":"point","filled":false,"opacity":1,"strokeWidth":1.8},"encoding":{"x":{"field":"x","type":"quantitative","axis":null},"y":{"field":"y","type":"quantitative","axis":null},"color":{"field":"lab","type":"nominal","scale":{"domain":["CLAS07 2.40 GeV"],"range":["#0000ff"]},"legend":{"title":null,"orient":"none","legendX":25,"legendY":10.7,"padding":0,"symbolSize":64,"symbolStrokeWidth":1.8,"labelOffset":28,"rowPadding":0}},"shape":{"field":"lab","type":"nominal","scale":{"domain":["CLAS07 2.40 GeV"],"range":["M0,-2.3L0,-0.85M0,0.85L0,2.3M-1.1,-2.3L1.1,-2.3M-1.1,2.3L1.1,2.3M0.85,0A0.85,0.85,0,1,1,-0.85,0A0.85,0.85,0,1,1,0.85,0"]},"legend":{"title":null,"orient":"none","legendX":25,"legendY":10.7,"padding":0,"symbolSize":64,"symbolStrokeWidth":1.8,"labelOffset":28,"rowPadding":0}}}}
]},
{"width":248.5,"height":188.5,"resolve":{"axis":{"x":"independent","y":"independent"}},"layer":[
{"data":{"name":"th"},"transform":[{"filter":"datum.p==6"},{"fold":["A","B","C"],"as":["m","v"]}],"mark":{"type":"line","strokeWidth":2,"interpolate":"monotone"},"encoding":{"x":{"field":"x","type":"quantitative","scale":{"domain":[-0.9,0.9],"nice":false,"zero":false},"axis":{"orient":"bottom","values":[-0.5,0,0.5],"format":".1f","tickSize":-7,"labelPadding":14,"title":"cos θ","titlePadding":3}},"y":{"field":"v","type":"quantitative","scale":{"domain":[0,0.4],"nice":false},"axis":{"orient":"left","values":[0,0.1,0.2,0.3,0.4],"tickSize":-7,"labels":false,"title":null}},"color":{"condition":{"test":"datum.c=='r'","value":"#ff0000"},"value":"#0000ff"},"strokeDash":{"field":"m","type":"nominal","scale":{"domain":["A","B","C"],"range":[[10,4,2,4],[1,0],[5.5,2.7]]},"legend":null},"detail":{"field":"c"}}},
{"data":{"name":"pts"},"transform":[{"filter":"datum.p==6"}],"mark":{"type":"rule","strokeWidth":2,"clip":true},"encoding":{"x":{"field":"x","type":"quantitative","scale":{"domain":[-0.9,0.9],"nice":false,"zero":false},"axis":{"orient":"bottom","values":[-0.8,-0.7,-0.6,-0.4,-0.3,-0.2,-0.1,0.1,0.2,0.3,0.4,0.6,0.7,0.8],"tickSize":-3.5,"labels":false,"title":null}},"y":{"field":"lo","type":"quantitative","scale":{"domain":[0,0.4],"nice":false},"axis":{"orient":"left","values":[0.02,0.04,0.06,0.08,0.12,0.14,0.16,0.18,0.22,0.24,0.26,0.28,0.32,0.34,0.36,0.38],"tickSize":-3.5,"labels":false,"title":null}},"y2":{"field":"hi"},"color":{"condition":{"test":"datum.c=='r'","value":"#ff0000"},"value":"#0000ff"}}},
{"data":{"name":"pts"},"transform":[{"filter":"datum.p==6"}],"mark":{"type":"tick","orient":"horizontal","size":8,"thickness":2,"clip":true,"opacity":1},"encoding":{"x":{"field":"x","type":"quantitative","scale":{"domain":[-0.9,0.9],"nice":false,"zero":false},"axis":{"orient":"top","values":[-0.5,0,0.5],"tickSize":-7,"labels":false,"title":null}},"y":{"field":"hi","type":"quantitative","scale":{"domain":[0,0.4],"nice":false},"axis":{"orient":"right","values":[0,0.1,0.2,0.3,0.4],"tickSize":-7,"labels":false,"title":null}},"color":{"condition":{"test":"datum.c=='r'","value":"#ff0000"},"value":"#0000ff"}}},
{"data":{"name":"pts"},"transform":[{"filter":"datum.p==6"}],"mark":{"type":"tick","orient":"horizontal","size":8,"thickness":2,"clip":true,"opacity":1},"encoding":{"x":{"field":"x","type":"quantitative","scale":{"domain":[-0.9,0.9],"nice":false,"zero":false},"axis":{"orient":"top","values":[-0.8,-0.7,-0.6,-0.4,-0.3,-0.2,-0.1,0.1,0.2,0.3,0.4,0.6,0.7,0.8],"tickSize":-3.5,"labels":false,"title":null}},"y":{"field":"lo","type":"quantitative","scale":{"domain":[0,0.4],"nice":false},"axis":{"orient":"right","values":[0.02,0.04,0.06,0.08,0.12,0.14,0.16,0.18,0.22,0.24,0.26,0.28,0.32,0.34,0.36,0.38],"tickSize":-3.5,"labels":false,"title":null}},"color":{"condition":{"test":"datum.c=='r'","value":"#ff0000"},"value":"#0000ff"}}},
{"data":{"name":"pts"},"transform":[{"filter":"datum.p==6"}],"mark":{"type":"point","size":49,"strokeWidth":1.8,"fill":"white","opacity":1,"clip":true},"encoding":{"x":{"field":"x","type":"quantitative","scale":{"domain":[-0.9,0.9],"nice":false,"zero":false},"axis":null},"y":{"field":"y","type":"quantitative","scale":{"domain":[0,0.4],"nice":false},"axis":null},"stroke":{"condition":{"test":"datum.c=='r'","value":"#ff0000"},"value":"#0000ff"},"shape":{"condition":{"test":"datum.c=='r'","value":"M-1,-1L1,1M1,-1L-1,1"},"value":"circle"}}},
{"data":{"name":"pts"},"transform":[{"filter":"false"}],"mark":{"type":"point","filled":false,"opacity":1,"strokeWidth":1.8},"encoding":{"x":{"field":"x","type":"quantitative","axis":null},"y":{"field":"y","type":"quantitative","axis":null},"color":{"field":"lab","type":"nominal","scale":{"domain":["CLAS07 2.44 GeV"],"range":["#0000ff"]},"legend":{"title":null,"orient":"none","legendX":24,"legendY":11.3,"padding":0,"symbolSize":64,"symbolStrokeWidth":1.8,"labelOffset":28,"rowPadding":0}},"shape":{"field":"lab","type":"nominal","scale":{"domain":["CLAS07 2.44 GeV"],"range":["M0,-2.3L0,-0.85M0,0.85L0,2.3M-1.1,-2.3L1.1,-2.3M-1.1,2.3L1.1,2.3M0.85,0A0.85,0.85,0,1,1,-0.85,0A0.85,0.85,0,1,1,0.85,0"]},"legend":{"title":null,"orient":"none","legendX":24,"legendY":11.3,"padding":0,"symbolSize":64,"symbolStrokeWidth":1.8,"labelOffset":28,"rowPadding":0}}}}
]},
{"width":248.5,"height":188.5,"resolve":{"axis":{"x":"independent","y":"independent"}},"layer":[
{"data":{"name":"th"},"transform":[{"filter":"datum.p==7"},{"fold":["A","B","C"],"as":["m","v"]}],"mark":{"type":"line","strokeWidth":2,"interpolate":"monotone"},"encoding":{"x":{"field":"x","type":"quantitative","scale":{"domain":[-0.9,0.9],"nice":false,"zero":false},"axis":{"orient":"bottom","values":[-0.5,0,0.5],"format":".1f","tickSize":-7,"labelPadding":14,"title":"cos θ","titlePadding":3}},"y":{"field":"v","type":"quantitative","scale":{"domain":[0,0.4],"nice":false},"axis":{"orient":"left","values":[0,0.1,0.2,0.3,0.4],"tickSize":-7,"labels":false,"title":null}},"color":{"condition":{"test":"datum.c=='r'","value":"#ff0000"},"value":"#0000ff"},"strokeDash":{"field":"m","type":"nominal","scale":{"domain":["A","B","C"],"range":[[10,4,2,4],[1,0],[5.5,2.7]]},"legend":null},"detail":{"field":"c"}}},
{"data":{"name":"pts"},"transform":[{"filter":"datum.p==7"}],"mark":{"type":"rule","strokeWidth":2,"clip":true},"encoding":{"x":{"field":"x","type":"quantitative","scale":{"domain":[-0.9,0.9],"nice":false,"zero":false},"axis":{"orient":"bottom","values":[-0.8,-0.7,-0.6,-0.4,-0.3,-0.2,-0.1,0.1,0.2,0.3,0.4,0.6,0.7,0.8],"tickSize":-3.5,"labels":false,"title":null}},"y":{"field":"lo","type":"quantitative","scale":{"domain":[0,0.4],"nice":false},"axis":{"orient":"left","values":[0.02,0.04,0.06,0.08,0.12,0.14,0.16,0.18,0.22,0.24,0.26,0.28,0.32,0.34,0.36,0.38],"tickSize":-3.5,"labels":false,"title":null}},"y2":{"field":"hi"},"color":{"condition":{"test":"datum.c=='r'","value":"#ff0000"},"value":"#0000ff"}}},
{"data":{"name":"pts"},"transform":[{"filter":"datum.p==7"}],"mark":{"type":"tick","orient":"horizontal","size":8,"thickness":2,"clip":true,"opacity":1},"encoding":{"x":{"field":"x","type":"quantitative","scale":{"domain":[-0.9,0.9],"nice":false,"zero":false},"axis":{"orient":"top","values":[-0.5,0,0.5],"tickSize":-7,"labels":false,"title":null}},"y":{"field":"hi","type":"quantitative","scale":{"domain":[0,0.4],"nice":false},"axis":{"orient":"right","values":[0,0.1,0.2,0.3,0.4],"tickSize":-7,"labels":false,"title":null}},"color":{"condition":{"test":"datum.c=='r'","value":"#ff0000"},"value":"#0000ff"}}},
{"data":{"name":"pts"},"transform":[{"filter":"datum.p==7"}],"mark":{"type":"tick","orient":"horizontal","size":8,"thickness":2,"clip":true,"opacity":1},"encoding":{"x":{"field":"x","type":"quantitative","scale":{"domain":[-0.9,0.9],"nice":false,"zero":false},"axis":{"orient":"top","values":[-0.8,-0.7,-0.6,-0.4,-0.3,-0.2,-0.1,0.1,0.2,0.3,0.4,0.6,0.7,0.8],"tickSize":-3.5,"labels":false,"title":null}},"y":{"field":"lo","type":"quantitative","scale":{"domain":[0,0.4],"nice":false},"axis":{"orient":"right","values":[0.02,0.04,0.06,0.08,0.12,0.14,0.16,0.18,0.22,0.24,0.26,0.28,0.32,0.34,0.36,0.38],"tickSize":-3.5,"labels":false,"title":null}},"color":{"condition":{"test":"datum.c=='r'","value":"#ff0000"},"value":"#0000ff"}}},
{"data":{"name":"pts"},"transform":[{"filter":"datum.p==7"}],"mark":{"type":"point","size":49,"strokeWidth":1.8,"fill":"white","opacity":1,"clip":true},"encoding":{"x":{"field":"x","type":"quantitative","scale":{"domain":[-0.9,0.9],"nice":false,"zero":false},"axis":null},"y":{"field":"y","type":"quantitative","scale":{"domain":[0,0.4],"nice":false},"axis":null},"stroke":{"condition":{"test":"datum.c=='r'","value":"#ff0000"},"value":"#0000ff"},"shape":{"condition":{"test":"datum.c=='r'","value":"M-1,-1L1,1M1,-1L-1,1"},"value":"circle"}}},
{"data":{"name":"pts"},"transform":[{"filter":"false"}],"mark":{"type":"point","filled":false,"opacity":1,"strokeWidth":1.8},"encoding":{"x":{"field":"x","type":"quantitative","axis":null},"y":{"field":"y","type":"quantitative","axis":null},"color":{"field":"lab","type":"nominal","scale":{"domain":["CLAS07 2.48 GeV"],"range":["#0000ff"]},"legend":{"title":null,"orient":"none","legendX":23,"legendY":11,"padding":0,"symbolSize":64,"symbolStrokeWidth":1.8,"labelOffset":28,"rowPadding":0}},"shape":{"field":"lab","type":"nominal","scale":{"domain":["CLAS07 2.48 GeV"],"range":["M0,-2.3L0,-0.85M0,0.85L0,2.3M-1.1,-2.3L1.1,-2.3M-1.1,2.3L1.1,2.3M0.85,0A0.85,0.85,0,1,1,-0.85,0A0.85,0.85,0,1,1,0.85,0"]},"legend":{"title":null,"orient":"none","legendX":23,"legendY":11,"padding":0,"symbolSize":64,"symbolStrokeWidth":1.8,"labelOffset":28,"rowPadding":0}}}}
]},
{"width":248.5,"height":188.5,"resolve":{"axis":{"x":"independent","y":"independent"}},"layer":[
{"data":{"name":"th"},"transform":[{"filter":"datum.p==8"},{"fold":["A","B","C"],"as":["m","v"]}],"mark":{"type":"line","strokeWidth":2,"interpolate":"monotone"},"encoding":{"x":{"field":"x","type":"quantitative","scale":{"domain":[-0.9,0.9],"nice":false,"zero":false},"axis":{"orient":"bottom","values":[-0.5,0,0.5],"format":".1f","tickSize":-7,"labelPadding":14,"title":"cos θ","titlePadding":3}},"y":{"field":"v","type":"quantitative","scale":{"domain":[0,0.4],"nice":false},"axis":{"orient":"left","values":[0,0.1,0.2,0.3,0.4],"tickSize":-7,"labels":false,"title":null}},"color":{"condition":{"test":"datum.c=='r'","value":"#ff0000"},"value":"#0000ff"},"strokeDash":{"field":"m","type":"nominal","scale":{"domain":["A","B","C"],"range":[[10,4,2,4],[1,0],[5.5,2.7]]},"legend":{"title":null,"orient":"none","legendX":40,"legendY":36.2,"padding":0,"symbolType":"M-4,0L4,0","symbolSize":64,"symbolStrokeColor":"#0000ff","symbolStrokeWidth":2,"labelOffset":27,"rowPadding":8.6,"labelFontStyle":"italic","labelExpr":"datum.label=='A' ? 'N*₃/₂₋' : datum.label=='B' ? 'N*₃/₂₋ + N*₇/₂₋' : 'N*₃/₂₋ + Δ*₇/₂₋'"}},"detail":{"field":"c"}}},
{"data":{"name":"pts"},"transform":[{"filter":"datum.p==8"}],"mark":{"type":"rule","strokeWidth":2,"clip":true},"encoding":{"x":{"field":"x","type":"quantitative","scale":{"domain":[-0.9,0.9],"nice":false,"zero":false},"axis":{"orient":"bottom","values":[-0.8,-0.7,-0.6,-0.4,-0.3,-0.2,-0.1,0.1,0.2,0.3,0.4,0.6,0.7,0.8],"tickSize":-3.5,"labels":false,"title":null}},"y":{"field":"lo","type":"quantitative","scale":{"domain":[0,0.4],"nice":false},"axis":{"orient":"left","values":[0.02,0.04,0.06,0.08,0.12,0.14,0.16,0.18,0.22,0.24,0.26,0.28,0.32,0.34,0.36,0.38],"tickSize":-3.5,"labels":false,"title":null}},"y2":{"field":"hi"},"color":{"condition":{"test":"datum.c=='r'","value":"#ff0000"},"value":"#0000ff"}}},
{"data":{"name":"pts"},"transform":[{"filter":"datum.p==8"}],"mark":{"type":"tick","orient":"horizontal","size":8,"thickness":2,"clip":true,"opacity":1},"encoding":{"x":{"field":"x","type":"quantitative","scale":{"domain":[-0.9,0.9],"nice":false,"zero":false},"axis":{"orient":"top","values":[-0.5,0,0.5],"tickSize":-7,"labels":false,"title":null}},"y":{"field":"hi","type":"quantitative","scale":{"domain":[0,0.4],"nice":false},"axis":{"orient":"right","values":[0,0.1,0.2,0.3,0.4],"tickSize":-7,"labels":false,"title":null}},"color":{"condition":{"test":"datum.c=='r'","value":"#ff0000"},"value":"#0000ff"}}},
{"data":{"name":"pts"},"transform":[{"filter":"datum.p==8"}],"mark":{"type":"tick","orient":"horizontal","size":8,"thickness":2,"clip":true,"opacity":1},"encoding":{"x":{"field":"x","type":"quantitative","scale":{"domain":[-0.9,0.9],"nice":false,"zero":false},"axis":{"orient":"top","values":[-0.8,-0.7,-0.6,-0.4,-0.3,-0.2,-0.1,0.1,0.2,0.3,0.4,0.6,0.7,0.8],"tickSize":-3.5,"labels":false,"title":null}},"y":{"field":"lo","type":"quantitative","scale":{"domain":[0,0.4],"nice":false},"axis":{"orient":"right","values":[0.02,0.04,0.06,0.08,0.12,0.14,0.16,0.18,0.22,0.24,0.26,0.28,0.32,0.34,0.36,0.38],"tickSize":-3.5,"labels":false,"title":null}},"color":{"condition":{"test":"datum.c=='r'","value":"#ff0000"},"value":"#0000ff"}}},
{"data":{"name":"pts"},"transform":[{"filter":"datum.p==8"}],"mark":{"type":"point","size":49,"strokeWidth":1.8,"fill":"white","opacity":1,"clip":true},"encoding":{"x":{"field":"x","type":"quantitative","scale":{"domain":[-0.9,0.9],"nice":false,"zero":false},"axis":null},"y":{"field":"y","type":"quantitative","scale":{"domain":[0,0.4],"nice":false},"axis":null},"stroke":{"condition":{"test":"datum.c=='r'","value":"#ff0000"},"value":"#0000ff"},"shape":{"condition":{"test":"datum.c=='r'","value":"M-1,-1L1,1M1,-1L-1,1"},"value":"circle"}}},
{"data":{"name":"pts"},"transform":[{"filter":"false"}],"mark":{"type":"point","filled":false,"opacity":1,"strokeWidth":1.8},"encoding":{"x":{"field":"x","type":"quantitative","axis":null},"y":{"field":"y","type":"quantitative","axis":null},"color":{"field":"lab","type":"nominal","scale":{"domain":["CLAS07 2.52 GeV"],"range":["#0000ff"]},"legend":{"title":null,"orient":"none","legendX":40,"legendY":9,"padding":0,"symbolSize":64,"symbolStrokeWidth":1.8,"labelOffset":27,"rowPadding":0}},"shape":{"field":"lab","type":"nominal","scale":{"domain":["CLAS07 2.52 GeV"],"range":["M0,-2.3L0,-0.85M0,0.85L0,2.3M-1.1,-2.3L1.1,-2.3M-1.1,2.3L1.1,2.3M0.85,0A0.85,0.85,0,1,1,-0.85,0A0.85,0.85,0,1,1,0.85,0"]},"legend":{"title":null,"orient":"none","legendX":40,"legendY":9,"padding":0,"symbolSize":64,"symbolStrokeWidth":1.8,"labelOffset":27,"rowPadding":0}}}}
]}
]
}
